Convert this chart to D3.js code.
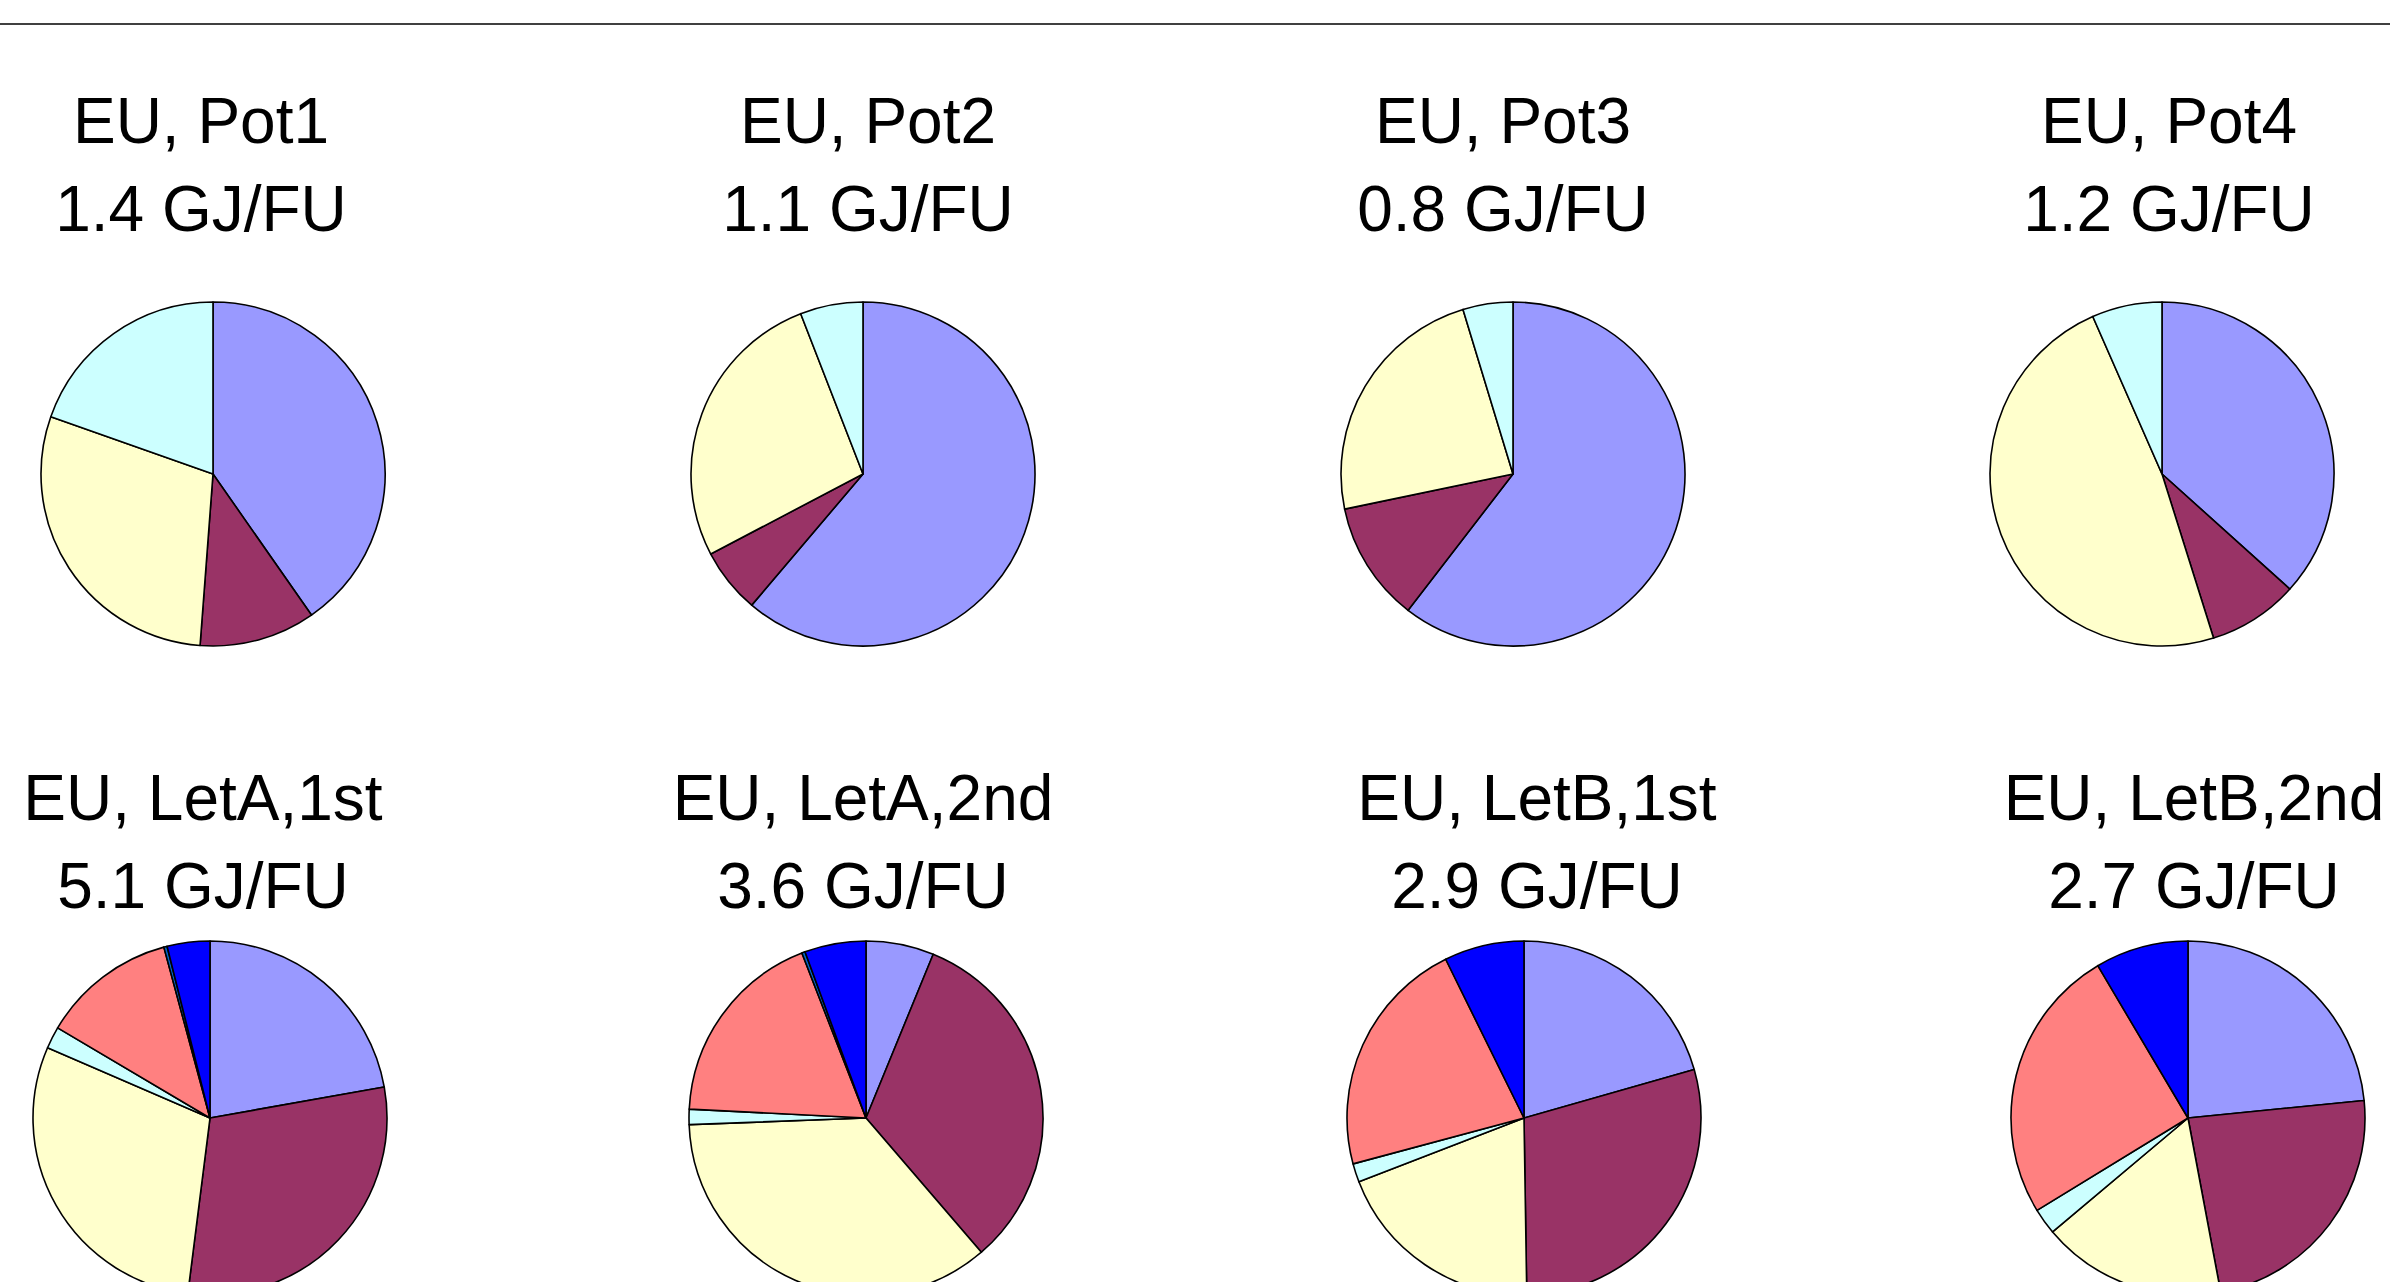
<!DOCTYPE html>
<html>
<head>
<meta charset="utf-8">
<script src="https://cdn.jsdelivr.net/npm/d3@7"></script>
<style>
  html, body { margin: 0; padding: 0; background: #ffffff; }
  svg { display: block; }
</style>
</head>
<body>
<svg id="chart" width="2390" height="1282"></svg>
<script>
// ---- data (shares in % of total primary energy) ----
const charts  = ["EU, Pot1", "EU, Pot2", "EU, Pot3", "EU, Pot4",
                 "EU, LetA,1st", "EU, LetA,2nd", "EU, LetB,1st", "EU, LetB,2nd"];
const totals  = [1.4, 1.1, 0.8, 1.2, 5.1, 3.6, 2.9, 2.7];   // GJ/FU
const unit    = "GJ/FU";

const seriesNames = ["s1", "s2", "s3", "s4", "s5", "s6", "s7"];
const s1 = [40.3, 61.2, 60.5, 36.7, 22.2,  6.2, 20.6, 23.4];
const s2 = [10.9,  6.1, 11.3,  8.5, 29.8, 32.5, 29.2, 23.6];
const s3 = [29.2, 26.8, 23.6, 48.3, 29.5, 35.7, 19.4, 16.8];
const s4 = [19.6,  5.9,  4.7,  6.6,  2.0,  1.4,  1.7,  2.4];
const s5 = [ 0,    0,    0,    0,   12.3, 18.3, 21.9, 25.2];
const s6 = [ 0,    0,    0,    0,    0.3,  0.3,  0,    0  ];
const s7 = [ 0,    0,    0,    0,    3.9,  5.6,  7.3,  8.5];
const seriesValues = [s1, s2, s3, s4, s5, s6, s7];

// ---- styling ----
const sliceColors = ["#9999FF", "#993366", "#FFFFCC", "#CCFFFF", "#FF8080", "#0066CC", "#0000FF"];
const fontFamily = "'Liberation Sans', Arial, Helvetica, sans-serif";

// ---- layout (panel placement) ----
const rows = [
  { cy: 474,  r: 172, pieX: [213, 863, 1513, 2162], titleX: [201, 868, 1503, 2169], t1: 143, t2: 231 },
  { cy: 1118, r: 177, pieX: [210, 866, 1524, 2188], titleX: [203, 863, 1537, 2194], t1: 820, t2: 908 }
];

const svg = d3.select("#chart");
const W = 2390;

// top rule
svg.append("line")
  .attr("x1", 0).attr("x2", W)
  .attr("y1", 24).attr("y2", 24)
  .attr("stroke", "#000").attr("stroke-width", 1.6);

const color = d3.scaleOrdinal().domain(seriesNames).range(sliceColors);

const pie = d3.pie()
  .sort(null)
  .value(d => d.value)
  .startAngle(0)
  .endAngle(2 * Math.PI);

charts.forEach((name, i) => {
  const row = rows[Math.floor(i / 4)];
  const col = i % 4;
  const cx = row.pieX[col];
  const tx = row.titleX[col];

  const data = seriesNames
    .map((s, k) => ({ key: s, value: seriesValues[k][i] }))
    .filter(d => d.value > 0);

  const arc = d3.arc().innerRadius(0).outerRadius(row.r);

  const g = svg.append("g").attr("transform", `translate(${cx},${row.cy})`);
  g.selectAll("path")
    .data(pie(data))
    .join("path")
    .attr("d", arc)
    .attr("fill", d => color(d.data.key))
    .attr("stroke", "#000")
    .attr("stroke-width", 1.6)
    .attr("stroke-linejoin", "round");

  svg.append("text")
    .attr("x", tx).attr("y", row.t1)
    .attr("text-anchor", "middle")
    .attr("font-family", fontFamily)
    .attr("font-size", 64)
    .attr("fill", "#000")
    .text(name);

  svg.append("text")
    .attr("x", tx).attr("y", row.t2)
    .attr("text-anchor", "middle")
    .attr("font-family", fontFamily)
    .attr("font-size", 64)
    .attr("fill", "#000")
    .text(`${totals[i].toFixed(1)} ${unit}`);
});
</script>
</body>
</html>
